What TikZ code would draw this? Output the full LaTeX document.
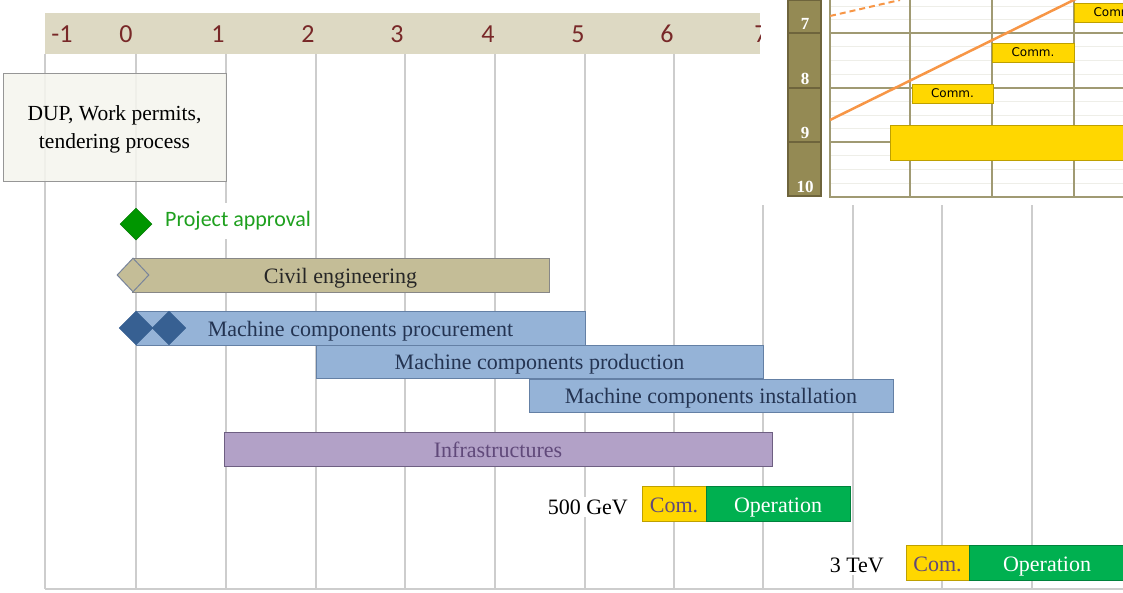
\documentclass[tikz,border=0pt]{standalone}
\usepackage{fontspec}
\setmainfont{Liberation Serif}
\setsansfont{Carlito}
\newfontfamily\commfont{DejaVu Sans}
\usetikzlibrary{shapes.geometric}

\definecolor{gridgray}{RGB}{205,205,205}
\definecolor{headtan}{RGB}{221,217,195}
\definecolor{yearred}{RGB}{120,40,40}
\definecolor{dupfill}{RGB}{245,245,238}
\definecolor{dupedge}{RGB}{150,150,150}
\definecolor{okgreen}{RGB}{0,150,0}
\definecolor{oktext}{RGB}{30,160,30}
\definecolor{civiltan}{RGB}{196,189,151}
\definecolor{civiledge}{RGB}{135,135,135}
\definecolor{civildia}{RGB}{120,132,155}
\definecolor{machblue}{RGB}{149,179,215}
\definecolor{machedge}{RGB}{100,128,165}
\definecolor{machdark}{RGB}{55,96,146}
\definecolor{machtext}{RGB}{36,52,82}
\definecolor{infrafill}{RGB}{178,161,199}
\definecolor{infraedge}{RGB}{110,95,130}
\definecolor{infratext}{RGB}{96,73,122}
\definecolor{comyellow}{RGB}{255,215,0}
\definecolor{comedge}{RGB}{190,160,0}
\definecolor{opgreen}{RGB}{0,176,80}
\definecolor{opedge}{RGB}{0,130,60}
\definecolor{olive}{RGB}{148,138,84}
\definecolor{oliveedge}{RGB}{110,100,60}
\definecolor{oliveline}{RGB}{160,154,115}
\definecolor{minorline}{RGB}{238,238,232}
\definecolor{trendorange}{RGB}{247,150,70}

\begin{document}
\begin{tikzpicture}
[every node/.style={inner sep=0pt},
 gridline/.style={line width=1.5pt, color=gridgray},
 yearlbl/.style={font=\sffamily\fontsize{26}{26}\selectfont, text=yearred},
 bar/.style={rectangle, line width=1pt, text height=20pt, text depth=4pt, font=\fontsize{22}{22}\selectfont},
 machbar/.style={bar, fill=machblue, draw=machedge, text=machtext},
 combox/.style={bar, fill=comyellow, draw=comedge, text=infratext},
 opbox/.style={bar, fill=opgreen, draw=opedge, text=white},
 energy/.style={font=\fontsize{22}{22}\selectfont, fill=white, inner sep=3pt},
 rownum/.style={font=\bfseries\fontsize{17}{17}\selectfont, text=white},
 commbox/.style={rectangle, fill=comyellow, draw=comedge, line width=1pt, font=\commfont\fontsize{12}{12}\selectfont}]
\clip (0pt, 0pt) rectangle (1123pt, -592pt);
\fill [white] (0pt, 0pt) rectangle (1123pt, -592pt);
% year grid
\draw [gridline] (45.0pt, -54.0pt) -- (45.0pt, -589.0pt);
\draw [gridline] (136.0pt, -54.0pt) -- (136.0pt, -589.0pt);
\draw [gridline] (226.0pt, -54.0pt) -- (226.0pt, -589.0pt);
\draw [gridline] (316.0pt, -54.0pt) -- (316.0pt, -589.0pt);
\draw [gridline] (405.0pt, -54.0pt) -- (405.0pt, -589.0pt);
\draw [gridline] (495.0pt, -54.0pt) -- (495.0pt, -589.0pt);
\draw [gridline] (585.0pt, -54.0pt) -- (585.0pt, -589.0pt);
\draw [gridline] (674.0pt, -54.0pt) -- (674.0pt, -589.0pt);
\draw [gridline] (763.0pt, -205.0pt) -- (763.0pt, -589.0pt);
\draw [gridline] (853.0pt, -205.0pt) -- (853.0pt, -589.0pt);
\draw [gridline] (942.0pt, -205.0pt) -- (942.0pt, -589.0pt);
\draw [gridline] (1032.0pt, -205.0pt) -- (1032.0pt, -589.0pt);
\draw [gridline] (45.0pt, -589.0pt) -- (1123.0pt, -589.0pt);
% year header
\begin{scope}
\clip (45.0pt, -13.0pt) rectangle (760.0pt, -54.0pt);
\fill [headtan] (45.0pt, -13.0pt) rectangle (760.0pt, -54.0pt);
\node (ym1) [yearlbl] at (62.0pt, -34.0pt) {-1};
\node (y0) [yearlbl] at (126.0pt, -34.0pt) {0};
\node (y1) [yearlbl] at (218.0pt, -34.0pt) {1};
\node (y2) [yearlbl] at (308.0pt, -34.0pt) {2};
\node (y3) [yearlbl] at (397.0pt, -34.0pt) {3};
\node (y4) [yearlbl] at (488.0pt, -34.0pt) {4};
\node (y5) [yearlbl] at (578.0pt, -34.0pt) {5};
\node (y6) [yearlbl] at (667.0pt, -34.0pt) {6};
\node (y7) [yearlbl] at (761.0pt, -34.0pt) {7};
\end{scope}
% permits
\node (dup) [rectangle, minimum width=223pt, minimum height=108pt, fill=dupfill, fill opacity=0.85, draw=dupedge, line width=1pt] at (114.5pt, -127.0pt) {};
\node (duptxt) [align=center, font=\fontsize{21.5}{28}\selectfont] at (114.5pt, -129.5pt) {DUP, Work permits,\\tendering process};
% approval
\node (approval) [diamond, minimum size=32pt, fill=okgreen, draw=okgreen!80!black, line width=0.5pt] at (136.0pt, -224.0pt) {};
\node (approvaltxt) [anchor=west, fill=white, inner xsep=4pt, inner ysep=8pt, text=oktext, font=\sffamily\fontsize{22}{22}\selectfont] at (161.0pt, -221.0pt) {Project approval};
% civil engineering
\node (civil) [bar, minimum width=417pt, minimum height=34pt, fill=civiltan, draw=civiledge, text=black!85] at (340.5pt, -275.0pt) {Civil engineering};
\node (civilstart) [diamond, minimum width=32pt, minimum height=34pt, fill=civiltan, draw=civildia, line width=1pt] at (133.0pt, -275.0pt) {};
% machine components
\node (procure) [machbar, minimum width=449pt, minimum height=34pt] at (360.5pt, -328.0pt) {Machine components procurement};
\node (procurea) [diamond, minimum size=34pt, fill=machdark, draw=machdark] at (136.0pt, -328.0pt) {};
\node (procureb) [diamond, minimum size=34pt, fill=machdark, draw=machdark] at (169.0pt, -328.0pt) {};
\node (produce) [machbar, minimum width=447pt, minimum height=33pt] at (539.5pt, -361.5pt) {Machine components production};
\node (install) [machbar, minimum width=364pt, minimum height=33pt] at (711.0pt, -395.5pt) {Machine components installation};
% infrastructures
\node (infra) [bar, minimum width=548pt, minimum height=34pt, fill=infrafill, draw=infraedge, text=infratext] at (498.0pt, -449.0pt) {Infrastructures};
% 500 GeV stage
\node (gev) [energy, anchor=east] at (631.0pt, -507.0pt) {500 GeV};
\node (gevcom) [combox, minimum width=64pt, minimum height=35pt] at (674.0pt, -504.0pt) {Com.};
\node (gevop) [opbox, minimum width=144pt, minimum height=35pt] at (778.0pt, -504.0pt) {Operation};
% 3 TeV stage
\node (tev) [energy, anchor=east] at (887.0pt, -565.0pt) {3 TeV};
\node (tevcom) [combox, minimum width=63pt, minimum height=35pt] at (937.5pt, -563.0pt) {Com.};
\node (tevop) [opbox, minimum width=156pt, minimum height=35pt] at (1047.0pt, -563.0pt) {Operation};
% inset of the detailed schedule
\fill [white] (786.0pt, 0.0pt) rectangle (1123.0pt, -199.0pt);
\draw [minorline, line width=0.8pt] (830.0pt, -6.0pt) -- (1123.0pt, -6.0pt) (830.0pt, -19.5pt) -- (1123.0pt, -19.5pt)
  (830.0pt, -46.75pt) -- (1123.0pt, -46.75pt) (830.0pt, -60.5pt) -- (1123.0pt, -60.5pt) (830.0pt, -74.25pt) -- (1123.0pt, -74.25pt)
  (830.0pt, -101.5pt) -- (1123.0pt, -101.5pt) (830.0pt, -115.0pt) -- (1123.0pt, -115.0pt) (830.0pt, -128.5pt) -- (1123.0pt, -128.5pt)
  (830.0pt, -155.75pt) -- (1123.0pt, -155.75pt) (830.0pt, -169.5pt) -- (1123.0pt, -169.5pt) (830.0pt, -183.25pt) -- (1123.0pt, -183.25pt);
\draw [oliveline, line width=1.5pt] (830.0pt, -33.0pt) -- (1123.0pt, -33.0pt) (830.0pt, -88.0pt) -- (1123.0pt, -88.0pt) (830.0pt, -142.0pt) -- (1123.0pt, -142.0pt);
\draw [oliveline, line width=1.5pt] (910.0pt, 0.0pt) -- (910.0pt, -197.0pt) (992.0pt, 0.0pt) -- (992.0pt, -197.0pt) (1074.0pt, 0.0pt) -- (1074.0pt, -197.0pt);
\draw [oliveline, line width=2pt] (830.0pt, 0.0pt) -- (830.0pt, -197.0pt) -- (1123.0pt, -197.0pt);
\fill [olive] (788.0pt, 0.0pt) rectangle (821.0pt, -196.0pt);
\draw [oliveedge, line width=1.2pt] (788.0pt, 0.0pt) rectangle (821.0pt, -196.0pt);
\draw [oliveedge, line width=1.2pt] (788.0pt, -33.0pt) -- (821.0pt, -33.0pt) (788.0pt, -88.0pt) -- (821.0pt, -88.0pt) (788.0pt, -142.0pt) -- (821.0pt, -142.0pt);
\node (r7) [rownum] at (805.0pt, -24.0pt) {7};
\node (r8) [rownum] at (805.0pt, -79.0pt) {8};
\node (r9) [rownum] at (805.0pt, -133.0pt) {9};
\node (r10) [rownum] at (805.0pt, -187.0pt) {10};
\node (comma) [commbox, minimum width=81pt, minimum height=19pt] at (952.5pt, -93.5pt) {Comm.};
\node (commb) [commbox, minimum width=82pt, minimum height=19pt] at (1033.0pt, -52.5pt) {Comm.};
\node (commc) [commbox, minimum width=82pt, minimum height=19pt] at (1115.0pt, -12.5pt) {Comm.};
\node (longbar) [commbox, minimum width=240pt, minimum height=35pt] at (1010.0pt, -142.5pt) {};
\draw [trendorange, line width=2.5pt] (830.0pt, -120.0pt) -- (1090.0pt, 8.0pt);
\draw [trendorange, line width=2pt, dash pattern=on 6pt off 4pt] (830.0pt, -16.0pt) -- (900.0pt, 0.0pt);
\end{tikzpicture}
\end{document}
